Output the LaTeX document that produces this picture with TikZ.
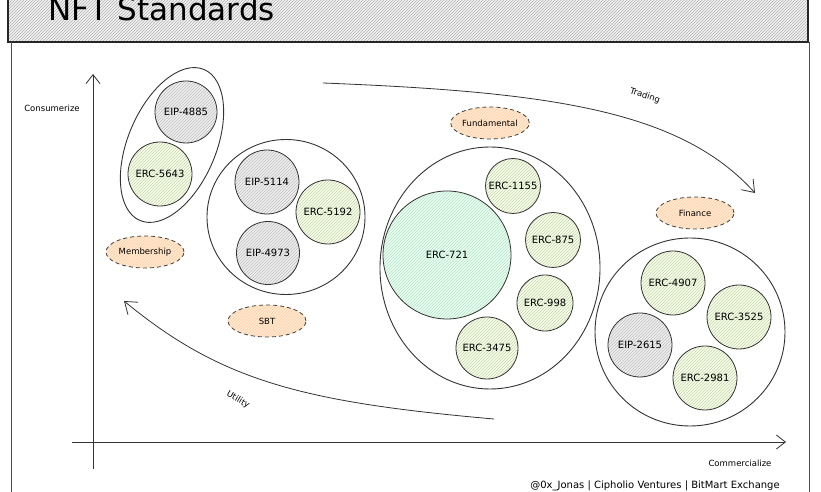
\documentclass[tikz,border=0pt]{standalone}
\usepackage{fontspec}
\setmainfont{DejaVu Sans}
\usetikzlibrary{arrows.meta,shapes,positioning,patterns}

\begin{document}
\begin{tikzpicture}[x=1pt,y=1pt,
  std/.style={circle,draw=black!80,line width=0.8pt,inner sep=0pt,font=\fontsize{10}{12}\selectfont},
  greystd/.style={std,preaction={fill=\colgrey},pattern=north east lines,pattern color=\colgreyline},
  greenstd/.style={std,preaction={fill=\colgreen},pattern=north east lines,pattern color=\colgreenline},
  mintstd/.style={std,preaction={fill=\colmint},pattern=north east lines,pattern color=\colmintline},
  tag/.style={ellipse,draw=black!75,line width=0.8pt,dash pattern=on 4pt off 3pt,inner sep=0pt,
    minimum width=78,minimum height=32,preaction={fill=\colorange},pattern=north east lines,
    pattern color=\colorangeline,font=\fontsize{8.5}{10}\selectfont},
  group/.style={ellipse,draw=black!80,line width=0.9pt,inner sep=0pt},
  axis/.style={draw=black!80,line width=0.8pt,-{Straight Barb[length=9pt,width=14pt]}},
  flow/.style={draw=black!80,line width=0.8pt,-{Straight Barb[length=11pt,width=16pt]}},
  lbl/.style={font=\fontsize{8.5}{10}\selectfont}]

%Couleurs
\def \colgrey{black!6}
\def \colgreyline{black!25}
\def \colgreen{green!30!yellow!10}
\def \colgreenline{green!45!yellow!40!black!28}
\def \colmint{green!40!cyan!10}
\def \colmintline{green!55!black!25}
\def \colorange{orange!18}
\def \colorangeline{orange!35}

\useasboundingbox (0,0) rectangle (821,492);
\clip (0,0) rectangle (821,492);

%%% Titre %%%
\draw[black!85,line width=1.2pt,preaction={fill=black!5},pattern=north east lines,pattern color=black!30]
(8,450) rectangle (808,500);
\node[anchor=base west,font=\fontsize{31}{36}\selectfont] (title) at (45,471) {NFT Standards};

%Cadre
\draw[black!70,line width=0.8pt] (11,450) -- (11,-5);
\draw[black!70,line width=0.8pt] (809,450) -- (809,-5);

%%% Axes %%%
\coordinate (ybot) at (93,23);
\coordinate (ytop) at (93,418);
\coordinate (xleft) at (72,50);
\coordinate (xright) at (786,50);
\draw[axis] (ybot) -- (ytop);
\draw[axis] (xleft) -- (xright);
\node[lbl] (consumerize) at (52,384) {Consumerize};
\node[lbl] (commercialize) at (740,29) {Commercialize};
\node[lbl,anchor=base,font=\fontsize{10}{11}\selectfont] (credits) at (655,3) {@0x\_Jonas | Cipholio Ventures | BitMart Exchange};

%%% Membership %%%
\node[group,minimum width=88,minimum height=164,rotate=-23] (membergrp) at (172,347) {};
\node[greystd,minimum size=62] (eip4885) at (186,380) {EIP-4885};
\node[greenstd,minimum size=64] (erc5643) at (160,318) {ERC-5643};
\node[tag] (membership) at (145,240) {Membership};

%%% SBT %%%
\node[group,minimum width=158,minimum height=155] (sbtgrp) at (286,275) {};
\node[greystd,minimum size=64] (eip5114) at (267,310) {EIP-5114};
\node[greenstd,minimum size=64] (erc5192) at (328,280) {ERC-5192};
\node[greystd,minimum size=63] (eip4973) at (268,239) {EIP-4973};
\node[tag] (sbt) at (267,171) {SBT};

%%% Fundamental %%%
\node[group,minimum width=220,minimum height=242] (fundgrp) at (490,224) {};
\node[mintstd,minimum size=128] (erc721) at (447,237) {ERC-721};
\node[greenstd,minimum size=55] (erc1155) at (513,306) {ERC-1155};
\node[greenstd,minimum size=55] (erc875) at (553,252) {ERC-875};
\node[greenstd,minimum size=56] (erc998) at (545,189) {ERC-998};
\node[greenstd,minimum size=62] (erc3475) at (487,144) {ERC-3475};
\node[tag] (fundamental) at (490,369) {Fundamental};

%%% Finance %%%
\node[group,minimum width=190,minimum height=188] (fingrp) at (690,160) {};
\node[greenstd,minimum size=64] (erc4907) at (673,209) {ERC-4907};
\node[greenstd,minimum size=64] (erc3525) at (739,175) {ERC-3525};
\node[greystd,minimum size=64] (eip2615) at (640,147) {EIP-2615};
\node[greenstd,minimum size=64] (erc2981) at (705,114) {ERC-2981};
\node[tag] (finance) at (695,279) {Finance};

%%% Fleches %%%
\coordinate (tradestart) at (323,409);
\coordinate (tradeend) at (755,299);
\draw[flow] (tradestart) .. controls (550,400) and (680,382) .. (tradeend);
\node[lbl,rotate=-18] (trading) at (645,396) {Trading};

\coordinate (utilstart) at (494,73);
\coordinate (utilend) at (124,191);
\draw[flow] (utilstart) .. controls (300,90) and (220,112) .. (utilend);
\node[lbl,rotate=-30] (utility) at (238,92) {Utility};

\end{tikzpicture}
\end{document}
